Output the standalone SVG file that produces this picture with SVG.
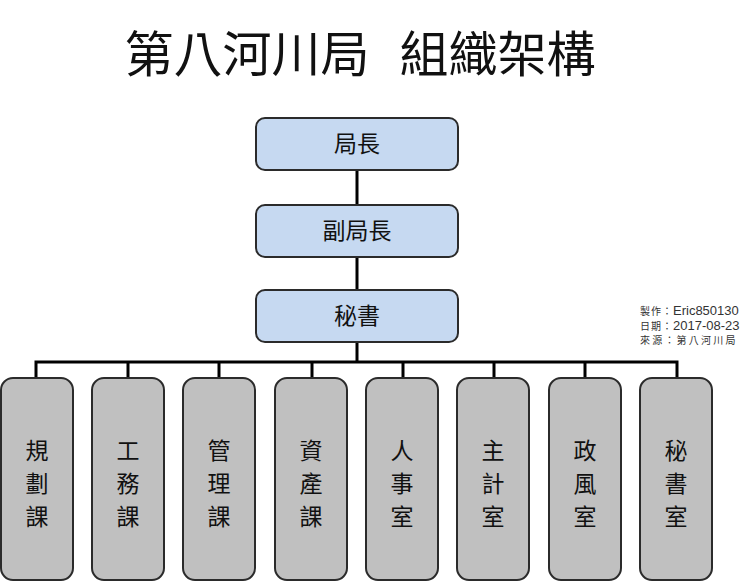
<svg xmlns="http://www.w3.org/2000/svg" width="749" height="582" viewBox="0 0 749 582">
<style>
.t{font-family:"Noto Sans CJK TC","Noto Sans CJK SC",sans-serif;fill:#111;}
.top{fill:#c6d9f1;stroke:#2b2b2b;stroke-width:2;}
.bot{fill:#c0c0c0;stroke:#2b2b2b;stroke-width:2;}
.lbl{font-size:23px;text-anchor:middle;}
.note{fill:#333;}
.cjk{font-family:"Noto Sans CJK TC","Noto Sans CJK SC",sans-serif;font-size:10px;}
.lat{font-family:"Liberation Sans",Arial,sans-serif;font-size:13px;}
.ln{stroke:#000;stroke-width:3;fill:none;}
</style>
<rect width="749" height="582" fill="#fff"/>
<text class="t" x="360" y="72" font-size="49" text-anchor="middle">第八河川局<tspan dx="30">組織架構</tspan></text>
<g id="connectors">
<path class="ln" d="M357 170V205M357 257V290M357 342V362"/>
<path class="ln" d="M36 378V362H677V378M128 362V378M219 362V378M312 362V378M403 362V378M494 362V378M585 362V378"/>
</g>
<g id="n-director"><rect class="top" x="256" y="118" width="202" height="52" rx="9"/><text class="t lbl" x="357" y="152">局長</text></g>
<g id="n-deputy"><rect class="top" x="256" y="205" width="202" height="52" rx="9"/><text class="t lbl" x="357" y="239">副局長</text></g>
<g id="n-secretary"><rect class="top" x="256" y="290" width="202" height="52" rx="9"/><text class="t lbl" x="357" y="324">秘書</text></g>
<g id="n-1"><rect class="bot" x="1" y="378" width="72" height="202" rx="12"/><text class="t lbl"><tspan x="37" y="459">規</tspan><tspan x="37" y="492">劃</tspan><tspan x="37" y="525">課</tspan></text></g>
<g id="n-2"><rect class="bot" x="92" y="378" width="72" height="202" rx="12"/><text class="t lbl"><tspan x="128" y="459">工</tspan><tspan x="128" y="492">務</tspan><tspan x="128" y="525">課</tspan></text></g>
<g id="n-3"><rect class="bot" x="183" y="378" width="72" height="202" rx="12"/><text class="t lbl"><tspan x="219" y="459">管</tspan><tspan x="219" y="492">理</tspan><tspan x="219" y="525">課</tspan></text></g>
<g id="n-4"><rect class="bot" x="275" y="378" width="72" height="202" rx="12"/><text class="t lbl"><tspan x="311" y="459">資</tspan><tspan x="311" y="492">產</tspan><tspan x="311" y="525">課</tspan></text></g>
<g id="n-5"><rect class="bot" x="366" y="378" width="72" height="202" rx="12"/><text class="t lbl"><tspan x="402" y="459">人</tspan><tspan x="402" y="492">事</tspan><tspan x="402" y="525">室</tspan></text></g>
<g id="n-6"><rect class="bot" x="457" y="378" width="72" height="202" rx="12"/><text class="t lbl"><tspan x="493" y="459">主</tspan><tspan x="493" y="492">計</tspan><tspan x="493" y="525">室</tspan></text></g>
<g id="n-7"><rect class="bot" x="549" y="378" width="72" height="202" rx="12"/><text class="t lbl"><tspan x="585" y="459">政</tspan><tspan x="585" y="492">風</tspan><tspan x="585" y="525">室</tspan></text></g>
<g id="n-8"><rect class="bot" x="640" y="378" width="72" height="202" rx="12"/><text class="t lbl"><tspan x="676" y="459">秘</tspan><tspan x="676" y="492">書</tspan><tspan x="676" y="525">室</tspan></text></g>
<g id="note">
<text class="note" x="640" y="315"><tspan class="cjk" letter-spacing="1">製作：</tspan><tspan class="lat">Eric850130</tspan></text>
<text class="note" x="640" y="330"><tspan class="cjk" letter-spacing="1">日期：</tspan><tspan class="lat">2017-08-23</tspan></text>
<text class="note cjk" x="640" y="344" letter-spacing="2.2">來源：第八河川局</text>
</g>
</svg>
